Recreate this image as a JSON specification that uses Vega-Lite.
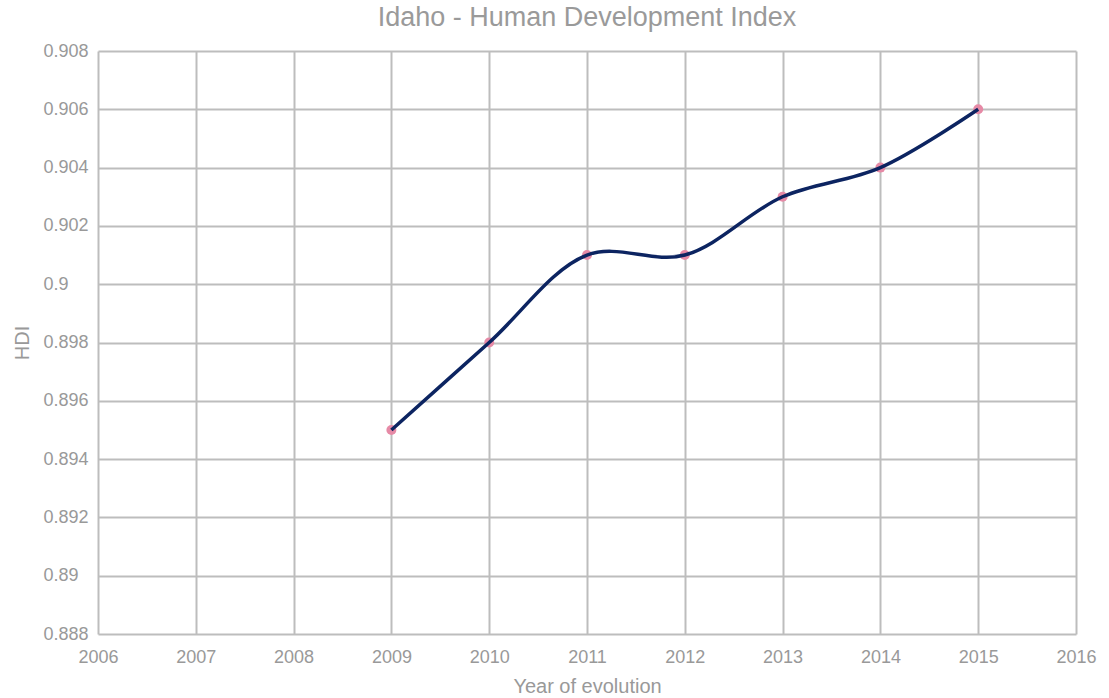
{
  "$schema": "https://vega.github.io/schema/vega-lite/v6.json",
  "width": 978,
  "height": 583,
  "autosize": {"type": "none"},
  "padding": {"left": 98, "top": 51, "right": 33, "bottom": 64},
  "background": "white",
  "title": {"text": "Idaho - Human Development Index", "font": "Liberation Sans", "fontSize": 27, "fontWeight": "normal", "color": "#9a9a9a", "anchor": "middle", "offset": 10},
  "config": {"view": {"stroke": null}},
  "data": {"values": [
    {"year": 2009, "hdi": 0.895},
    {"year": 2010, "hdi": 0.898},
    {"year": 2011, "hdi": 0.901},
    {"year": 2012, "hdi": 0.901},
    {"year": 2013, "hdi": 0.903},
    {"year": 2014, "hdi": 0.904},
    {"year": 2015, "hdi": 0.906}
  ]},
  "encoding": {
    "x": {"field": "year", "type": "quantitative", "scale": {"domain": [2006, 2016], "nice": false, "zero": false},
      "axis": {"title": "Year of evolution", "values": [2006,2007,2008,2009,2010,2011,2012,2013,2014,2015,2016], "format": "d", "domain": false, "ticks": false, "labelFlush": false, "labelOverlap": false, "gridColor": "#bdbdbd", "gridWidth": 2, "gridOpacity": 1, "labelFont": "Liberation Sans", "labelFontSize": 18, "labelColor": "#999999", "labelPadding": 14, "titleFont": "Liberation Sans", "titleFontSize": 20, "titleFontWeight": "normal", "titleColor": "#999999", "titlePadding": 10}},
    "y": {"field": "hdi", "type": "quantitative", "scale": {"domain": [0.888, 0.908], "nice": false, "zero": false},
      "axis": {"title": "HDI", "values": [0.888,0.89,0.892,0.894,0.896,0.898,0.9,0.902,0.904,0.906,0.908], "format": "~g", "domain": false, "ticks": false, "labelFlush": false, "labelOverlap": false, "labelAlign": "left", "gridColor": "#bdbdbd", "gridWidth": 2, "gridOpacity": 1, "labelFont": "Liberation Sans", "labelFontSize": 18, "labelColor": "#999999", "labelPadding": 55, "titleFont": "Liberation Sans", "titleFontSize": 20, "titleFontWeight": "normal", "titleColor": "#999999", "titlePadding": 11}}
  },
  "layer": [
    {"mark": {"type": "point", "filled": true, "color": "#e68aa6", "size": 100, "opacity": 1}},
    {"mark": {"type": "line", "interpolate": "catmull-rom", "color": "#0c2461", "strokeWidth": 3.5}}
  ]
}
